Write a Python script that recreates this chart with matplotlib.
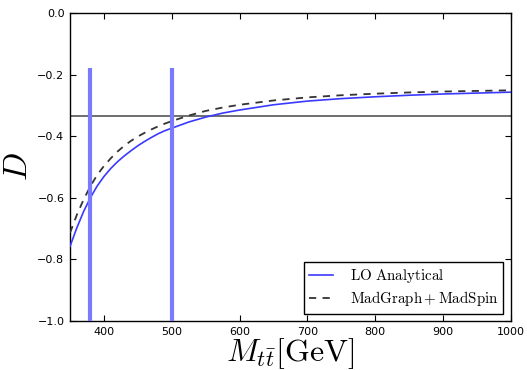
import matplotlib
matplotlib.use("Agg")
import matplotlib.pyplot as plt

plt.rcParams['mathtext.fontset'] = 'cm'
plt.rcParams['axes.unicode_minus'] = True

mass = [350, 360, 370, 380, 390, 400, 410, 420, 430, 440, 450, 460, 470, 480, 490, 500,
        525, 550, 575, 600, 650, 700, 750, 800, 850, 900, 950, 1000]
lo_analytical = [-0.758, -0.698, -0.645, -0.600, -0.562, -0.531, -0.505, -0.483, -0.464, -0.447,
                 -0.431, -0.417, -0.404, -0.392, -0.382, -0.374,
                 -0.354, -0.338, -0.325, -0.315, -0.298, -0.286, -0.278, -0.272, -0.267,
                 -0.263, -0.260, -0.257]
madgraph = [-0.714, -0.656, -0.606, -0.563, -0.526, -0.497, -0.472, -0.450, -0.431, -0.415,
            -0.401, -0.389, -0.378, -0.368, -0.359, -0.351,
            -0.333, -0.318, -0.307, -0.298, -0.284, -0.274, -0.267, -0.262, -0.258,
            -0.255, -0.253, -0.251]
vlines_x = [380, 500]
vline_top = -0.18
hline_y = -1/3
xticks = [400, 500, 600, 700, 800, 900, 1000]
yticks = [-1.0, -0.8, -0.6, -0.4, -0.2, 0.0]

fig = plt.figure(figsize=(5.27, 3.70), dpi=100)
ax = fig.add_axes([0.1328, 0.1324, 0.9696 - 0.1328, 0.9649 - 0.1324])

ax.plot(mass, lo_analytical, color='#3a3aff', lw=1.2, label=r'$\mathrm{LO\ Analytical}$', zorder=3)
ax.plot(mass, madgraph, color='#333333', lw=1.3, ls=(0, (4, 3.5)),
        label=r'$\mathrm{MadGraph+MadSpin}$', zorder=3)
ax.axhline(hline_y, color='#555555', lw=1.2, zorder=2)
for xv in vlines_x:
    ax.plot([xv, xv], [-1.0, vline_top], color='#7a7aff', lw=3.0, zorder=4,
            solid_capstyle='butt')

ax.set_xlim(350, 1000)
ax.set_ylim(-1.0, 0.0)
ax.set_xticks(xticks)
ax.set_yticks(yticks)
ax.set_yticklabels([f"{v:.1f}".replace('-', '\u2212') for v in yticks])
ax.tick_params(direction='in', top=True, right=True, labelsize=8, length=4, width=0.8, pad=4)
for s in ax.spines.values():
    s.set_linewidth(1.0)

ax.set_xlabel(r'$M_{t\bar{t}}[\mathrm{GeV}]$', fontsize=23, labelpad=0)
ax.set_ylabel(r'$D$', fontsize=24, va='center')
ax.yaxis.set_label_coords(-0.12, 0.5)

leg = ax.legend(loc='lower right', fontsize=10.8, fancybox=False, framealpha=1,
                edgecolor='black', handlelength=1.6, handletextpad=1.1,
                borderaxespad=0.5, borderpad=0.35, labelspacing=0.3)
leg.get_frame().set_linewidth(1.0)

fig.savefig('out.png', dpi=100)
